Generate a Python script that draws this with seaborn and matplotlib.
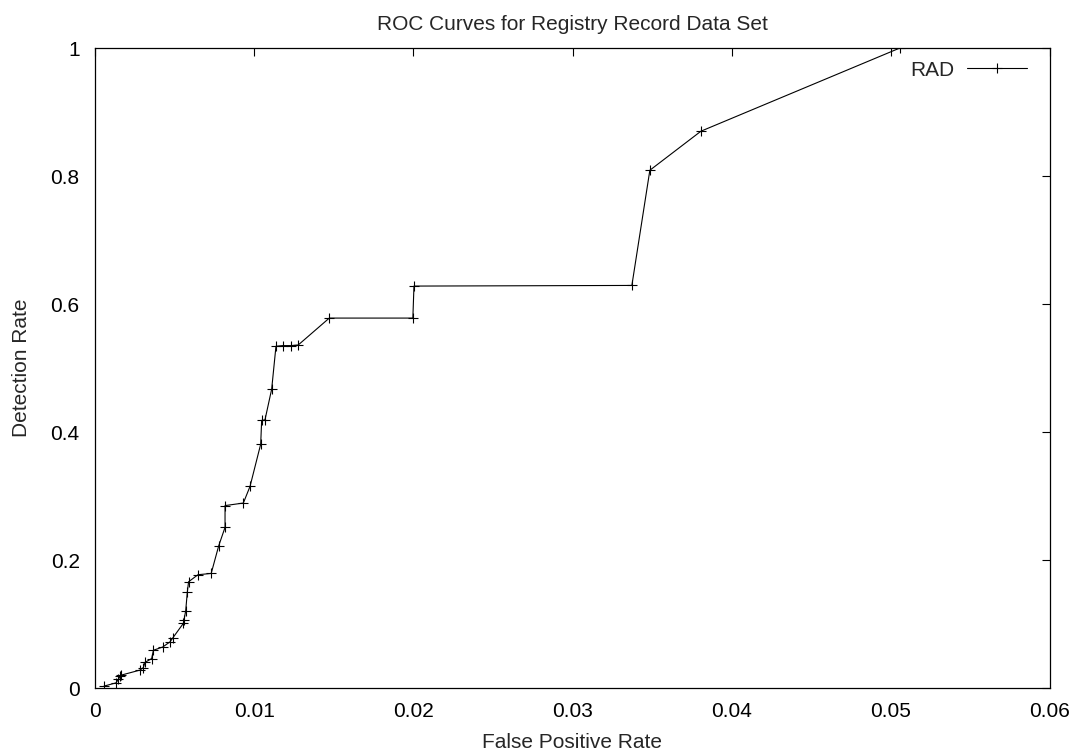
import matplotlib
matplotlib.use("Agg")
import matplotlib.pyplot as plt
import seaborn as sns
import pandas as pd

fpr = [0.00057, 0.00132, 0.00147, 0.00157, 0.00163, 0.00283, 0.00304, 0.00314,
       0.00356, 0.00367, 0.00425, 0.00471, 0.00488, 0.00555, 0.00559, 0.00570,
       0.00580, 0.00588, 0.00647, 0.00730, 0.00777, 0.00817, 0.00817, 0.00932,
       0.00974, 0.01041, 0.01047, 0.01068, 0.01110, 0.01137, 0.01179, 0.01231,
       0.01277, 0.01472, 0.01997, 0.02004, 0.03373, 0.03486, 0.03807, 0.05057]
det = [0.003, 0.008, 0.0135, 0.018, 0.020, 0.028, 0.032, 0.040,
       0.046, 0.059, 0.064, 0.072, 0.078, 0.101, 0.106, 0.121,
       0.150, 0.166, 0.177, 0.179, 0.222, 0.251, 0.285, 0.289,
       0.315, 0.381, 0.418, 0.419, 0.467, 0.534, 0.535, 0.535,
       0.536, 0.578, 0.578, 0.628, 0.629, 0.809, 0.870, 1.000]
x_ticks = [0, 0.01, 0.02, 0.03, 0.04, 0.05, 0.06]
x_tick_labels = ["0", "0.01", "0.02", "0.03", "0.04", "0.05", "0.06"]
y_ticks = [0, 0.2, 0.4, 0.6, 0.8, 1.0]
y_tick_labels = ["0", "0.2", "0.4", "0.6", "0.8", "1"]

sns.set_style("white")
plt.rcParams['font.family'] = ['Liberation Sans', 'DejaVu Sans']

df = pd.DataFrame({"fpr": fpr, "det": det, "series": "RAD"})

fig = plt.figure(figsize=(10.81, 7.53), dpi=100)
ax = fig.add_axes([95/1081, 1 - 688/753, (1050 - 95)/1081, (688 - 48)/753])

sns.lineplot(data=df, x="fpr", y="det", hue="series", palette=["black"],
             sort=False, estimator=None, marker="+", markersize=7,
             markeredgewidth=0.8, markeredgecolor="black", markerfacecolor="black",
             linewidth=0.8, ax=ax)

ax.set_xlim(0, 0.06)
ax.set_ylim(0, 1)
ax.set_xticks(x_ticks)
ax.set_xticklabels(x_tick_labels)
ax.set_yticks(y_ticks)
ax.set_yticklabels(y_tick_labels)
ax.tick_params(direction="in", length=6, width=0.8, top=True, right=True,
               labelsize=15, colors="black")
ax.tick_params(axis="x", pad=10)
ax.tick_params(axis="y", pad=11)
for s in ax.spines.values():
    s.set_color("black")
    s.set_linewidth(0.9)

ax.set_xlabel("False Positive Rate", fontsize=15, labelpad=8.5)
ax.set_ylabel("Detection Rate", fontsize=15, labelpad=14)
ax.set_title("ROC Curves for Registry Record Data Set", fontsize=15, pad=13)

leg = ax.legend(loc="upper right", frameon=False, markerfirst=False,
                fontsize=15, handlelength=2.9, handletextpad=0.6,
                borderaxespad=0.4, bbox_to_anchor=(1 - 6/955, 1 + 4/640))

fig.savefig("out.png", dpi=100)
